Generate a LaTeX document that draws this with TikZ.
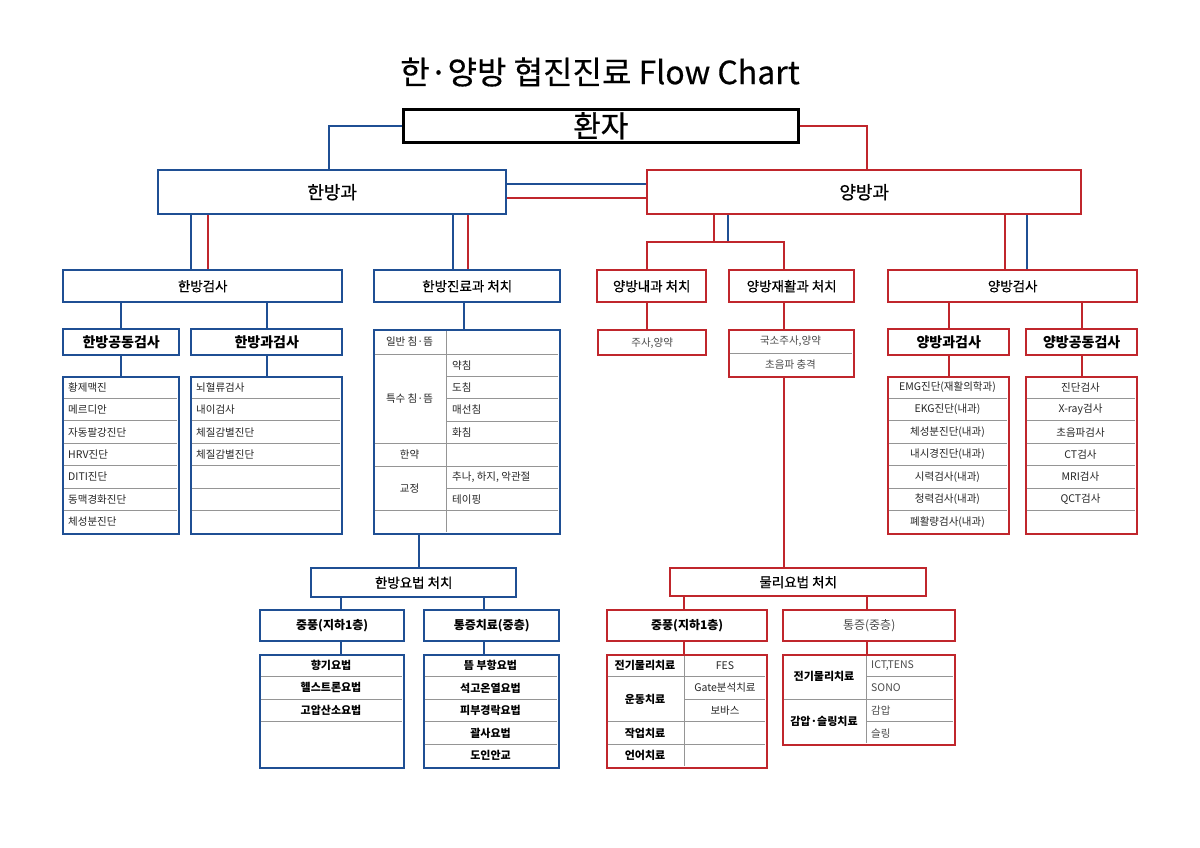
\documentclass[tikz,border=0pt]{standalone}
\usepackage{fontspec}
\setmainfont{Noto Sans CJK KR}
\newfontfamily\medfont{Noto Sans CJK KR}[FakeBold=0.7]
\newfontfamily\titfont{Noto Sans CJK KR}[FakeBold=0.4]
\usetikzlibrary{calc}
\definecolor{bl}{HTML}{1F4F94}
\definecolor{rd}{HTML}{C0262C}
\definecolor{sepc}{HTML}{959595}
\definecolor{txt}{HTML}{262626}
\definecolor{lt}{HTML}{4A4A4A}
\newcommand\mybox[7]{\node[#6, anchor=north west, minimum width={(#4-#2)*1pt}, minimum height={(#5-#3)*1pt}] (#1) at (#2,#3) {#7};}
\tikzset{
  kbox/.style={draw=black, line width=2.6pt, fill=white, inner sep=0pt},
  bbox/.style={draw=bl, line width=2.4pt, fill=white, inner sep=0pt},
  rbox/.style={draw=rd, line width=2.4pt, fill=white, inner sep=0pt},
  bline/.style={draw=bl, line width=2pt},
  rline/.style={draw=rd, line width=2pt},
  seprule/.style={draw=sepc, line width=0.9pt},
  cell/.style={font=\fontsize{10.5}{12}\selectfont, text=txt, inner sep=0pt},
  lcell/.style={font=\fontsize{10.5}{12}\selectfont, text=lt, inner sep=0pt},
  bcell/.style={font=\fontsize{11}{13}\selectfont\bfseries, text=black, inner sep=0pt},
  hdr/.style={font=\fontsize{13.5}{16}\medfont},
  bhdr/.style={font=\fontsize{14}{16}\selectfont\bfseries},
  shdr/.style={font=\fontsize{12}{14}\selectfont\bfseries},
}
\begin{document}
\begin{tikzpicture}[x=1pt,y=-1pt]
\fill[white] (0,0) rectangle (1200,848);
\useasboundingbox (0,0) rectangle (1200,848);

\node[font=\fontsize{32}{36}\titfont, inner sep=0pt] (title) at (600,72) {한·양방 협진진료 Flow Chart};

% top level
\mybox{hwanja}{402}{108}{797}{141}{kbox}{\fontsize{30}{32}\medfont 환자}
\mybox{hbk}{157}{169}{505}{213}{bbox}{\fontsize{18}{20}\medfont 한방과}
\mybox{ybk}{646}{169}{1080}{213}{rbox}{\fontsize{18}{20}\medfont 양방과}

% second level - blue
\mybox{hgs}{62}{269}{341}{301}{bbox,hdr}{한방검사}
\mybox{hjc}{373}{269}{559}{301}{bbox,hdr}{한방진료과 처치}
\mybox{hgd}{62}{328}{178}{354}{bbox,bhdr}{한방공동검사}
\mybox{hgk}{190}{328}{341}{354}{bbox,bhdr}{한방과검사}
\mybox{hgdl}{62}{376}{178}{533}{bbox}{}
\mybox{hgkl}{190}{376}{341}{533}{bbox}{}
\mybox{hjt}{373}{329}{559}{533}{bbox}{}
\mybox{hyb}{310}{567}{515}{596}{bbox,hdr}{한방요법 처치}
\mybox{hjp}{259}{609}{403}{640}{bbox,shdr}{중풍(지하1층)}
\mybox{htj}{423}{609}{558}{640}{bbox,shdr}{통증치료(중층)}
\mybox{hjpl}{259}{654}{403}{767}{bbox}{}
\mybox{htjl}{423}{654}{558}{767}{bbox}{}

% second level - red
\mybox{ynk}{596}{269}{705}{301}{rbox,hdr}{양방내과 처치}
\mybox{yjh}{728}{269}{853}{301}{rbox,hdr}{양방재활과 처치}
\mybox{ygs}{887}{269}{1136}{301}{rbox,hdr}{양방검사}
\mybox{ynl}{597}{329}{705}{354}{rbox,lcell}{주사,양약}
\mybox{yjl}{728}{329}{853}{376}{rbox}{}
\mybox{ygk}{887}{328}{1008}{354}{rbox,bhdr}{양방과검사}
\mybox{ygd}{1025}{328}{1136}{354}{rbox,bhdr}{양방공동검사}
\mybox{ygkl}{887}{376}{1008}{533}{rbox}{}
\mybox{ygdl}{1025}{376}{1136}{533}{rbox}{}
\mybox{mul}{669}{567}{925}{595}{rbox,hdr}{물리요법 처치}
\mybox{mjp}{606}{609}{766}{640}{rbox,shdr}{중풍(지하1층)}
\mybox{mtj}{782}{609}{954}{640}{rbox,font=\fontsize{12}{14}\selectfont,text=lt}{통증(중층)}
\mybox{mjpl}{606}{654}{766}{767}{rbox}{}
\mybox{mtjl}{782}{654}{954}{744}{rbox}{}

% ---------- connectors ----------
\draw[bline] (hwanja.west) -| ([xshift=-3pt]hbk.north);
\draw[rline] (hwanja.east) -| ([xshift=3pt]ybk.north);
\draw[bline] ([yshift=8.5pt]hbk.east) -- ([yshift=8.5pt]hbk.east -| ybk.west);
\draw[rline] ([yshift=-6pt]hbk.east) -- ([yshift=-6pt]hbk.east -| ybk.west);

\draw[bline] ([xshift=-11.5pt]hgs.north) -- ([xshift=-11.5pt]hgs.north |- hbk.south);
\draw[rline] ([xshift=5pt]hgs.north) -- ([xshift=5pt]hgs.north |- hbk.south);
\draw[bline] ([xshift=-14pt]hjc.north) -- ([xshift=-14pt]hjc.north |- hbk.south);
\draw[rline] ([xshift=1pt]hjc.north) -- ([xshift=1pt]hjc.north |- hbk.south);

\draw[bline] (hgd.north) -- (hgd.north |- hgs.south);
\draw[bline] (hgk.north) -- (hgk.north |- hgs.south);
\draw[bline] (hgdl.north) -- (hgd.south);
\draw[bline] (hgkl.north) -- (hgkl.north |- hgk.south);
\draw[bline] ([xshift=-3pt]hjt.north) -- ([xshift=-3pt]hjt.north |- hjc.south);
\draw[bline] ([xshift=5.5pt]hyb.north) -- ([xshift=5.5pt]hyb.north |- hjt.south);
\draw[bline] ([xshift=9pt]hjp.north) -- ([xshift=9pt]hjp.north |- hyb.south);
\draw[bline] ([xshift=-7.5pt]htj.north) -- ([xshift=-7.5pt]htj.north |- hyb.south);
\draw[bline] ([xshift=9pt]hjpl.north) -- ([xshift=9pt]hjpl.north |- hjp.south);
\draw[bline] ([xshift=-7.5pt]htjl.north) -- ([xshift=-7.5pt]htjl.north |- htj.south);

\coordinate (yj) at (714,242);
\coordinate (bj) at (728,242);
\draw[bline] (bj |- ybk.south) -- (bj);
\draw[rline] (yj |- ybk.south) -- (yj);
\draw[rline] ([xshift=-5pt]ynk.north) -- ([xshift=-5pt]ynk.north |- yj) -- ([xshift=-8pt]yjh.north |- yj) -- ([xshift=-8pt]yjh.north);
\draw[rline] ([xshift=-7.5pt]ygs.north) -- ([xshift=-7.5pt]ygs.north |- ybk.south);
\draw[bline] ([xshift=14.5pt]ygs.north) -- ([xshift=14.5pt]ygs.north |- ybk.south);
\draw[rline] ([xshift=-5pt]ynl.north) -- ([xshift=-5pt]ynl.north |- ynk.south);
\draw[rline] ([xshift=-8pt]yjl.north) -- ([xshift=-8pt]yjl.north |- yjh.south);
\draw[rline] (ygk.north) -- (ygk.north |- ygs.south);
\draw[rline] (ygd.north) -- (ygd.north |- ygs.south);
\draw[rline] (ygkl.north) -- (ygkl.north |- ygk.south);
\draw[rline] (ygdl.north) -- (ygdl.north |- ygd.south);
\draw[rline] ([xshift=-8pt]yjl.south) -- ([xshift=-8pt]yjl.south |- mul.north);
\draw[rline] ([xshift=-3pt]mjp.north) -- ([xshift=-3pt]mjp.north |- mul.south);
\draw[rline] ([xshift=-2pt]mtj.north) -- ([xshift=-2pt]mtj.north |- mul.south);
\draw[rline] ([xshift=-3pt]mjpl.north) -- ([xshift=-3pt]mjpl.north |- mjp.south);
\draw[rline] ([xshift=-2pt]mtjl.north) -- ([xshift=-2pt]mtjl.north |- mtj.south);

% ---------- lists ----------
\foreach \i in {1,...,6}{
  \draw[seprule] (63.5,{376+22.43*\i}) -- (176.5,{376+22.43*\i});
  \draw[seprule] (191.5,{376+22.43*\i}) -- (339.5,{376+22.43*\i});
  \draw[seprule] (888.5,{376+22.43*\i}) -- (1006.5,{376+22.43*\i});
  \draw[seprule] (1026.5,{376+22.43*\i}) -- (1134.5,{376+22.43*\i});
}
\foreach \t [count=\i] in {황제맥진,메르디안,자동팔강진단,HRV진단,DITI진단,동맥경화진단,체성분진단}
  \node[cell, anchor=west] (hgdt\i) at (68,{376+22.43*(\i-0.5)}) {\t};
\foreach \t [count=\i] in {뇌혈류검사,내이검사,체질감별진단,체질감별진단}
  \node[cell, anchor=west] (hgkt\i) at (196,{376+22.43*(\i-0.5)}) {\t};
\foreach \t [count=\i] in {EMG진단(재활의학과),EKG진단(내과),체성분진단(내과),내시경진단(내과),시력검사(내과),청력검사(내과),폐활량검사(내과)}
  \node[cell] (ygkt\i) at (947.5,{376+22.43*(\i-0.5)}) {\t};
\foreach \t [count=\i] in {진단검사,X-ray검사,초음파검사,CT검사,MRI검사,QCT검사}
  \node[cell] (ygdt\i) at (1080.5,{376+22.43*(\i-0.5)}) {\t};

% 한방진료과 처치 table
\draw[seprule] (446,330.5) -- (446,531.5);
\draw[seprule] (374.5,354) -- (557.5,354);
\foreach \y in {376.4,398.75,421.1,488.4}
  \draw[seprule] (446,\y) -- (557.5,\y);
\foreach \y in {443.5,466,510.8}
  \draw[seprule] (374.5,\y) -- (557.5,\y);
\node[cell] (hj1) at (409.5,341.5) {일반 침·뜸};
\node[cell] (hj2) at (409.5,398.75) {특수 침·뜸};
\node[cell] (hj3) at (409.5,454.75) {한약};
\node[cell] (hj4) at (409.5,488.4) {교정};
\foreach \t/\y [count=\i] in {약침/365.2,도침/387.6,매선침/409.9,화침/432.3,{추나, 하지, 악관절}/477.2,테이핑/499.6}
  \node[cell, anchor=west] (hjr\i) at (452,\y) {\t};

% 양방재활과 list
\draw[seprule] (729.5,353.5) -- (851.5,353.5);
\node[lcell] (yjt1) at (790.5,341.2) {국소주사,양약};
\node[lcell] (yjt2) at (790.5,365) {초음파 충격};

% 한방요법 lists
\foreach \i in {1,2,3}
  \draw[seprule] (260.5,{654+22.6*\i}) -- (401.5,{654+22.6*\i});
\foreach \i in {1,...,4}
  \draw[seprule] (424.5,{654+22.6*\i}) -- (556.5,{654+22.6*\i});
\foreach \t [count=\i] in {향기요법,헬스트론요법,고압산소요법}
  \node[bcell] (hjpt\i) at (331,{654+22.6*(\i-0.5)}) {\t};
\foreach \t [count=\i] in {뜸 부항요법,석고온열요법,피부경락요법,괄사요법,도인안교}
  \node[bcell] (htjt\i) at (490.5,{654+22.6*(\i-0.5)}) {\t};

% 물리요법 중풍 table
\draw[seprule] (684,655.5) -- (684,765.5);
\foreach \y in {676.6,721.8,744.4}
  \draw[seprule] (607.5,\y) -- (764.5,\y);
\draw[seprule] (684,699.2) -- (764.5,699.2);
\node[bcell] (mj1) at (645,665.3) {전기물리치료};
\node[bcell] (mj2) at (645,699.2) {운동치료};
\node[bcell] (mj3) at (645,733.1) {작업치료};
\node[bcell] (mj4) at (645,755.7) {언어치료};
\node[cell] (mjr1) at (725,665.3) {FES};
\node[cell] (mjr2) at (725,687.9) {Gate분석치료};
\node[cell] (mjr3) at (725,710.5) {보바스};

% 물리요법 통증 table
\draw[seprule] (866,655.5) -- (866,742.5);
\draw[seprule] (783.5,699.2) -- (952.5,699.2);
\foreach \y in {676.6,721.8}
  \draw[seprule] (866,\y) -- (952.5,\y);
\node[bcell] (mt1) at (824,676.6) {전기물리치료};
\node[bcell] (mt2) at (824,721.8) {감압·슬링치료};
\foreach \t [count=\i] in {{ICT,TENS},SONO,감압,슬링}
  \node[lcell, anchor=west] (mtr\i) at (871,{654+22.6*(\i-0.5)}) {\t};

\end{tikzpicture}
\end{document}
